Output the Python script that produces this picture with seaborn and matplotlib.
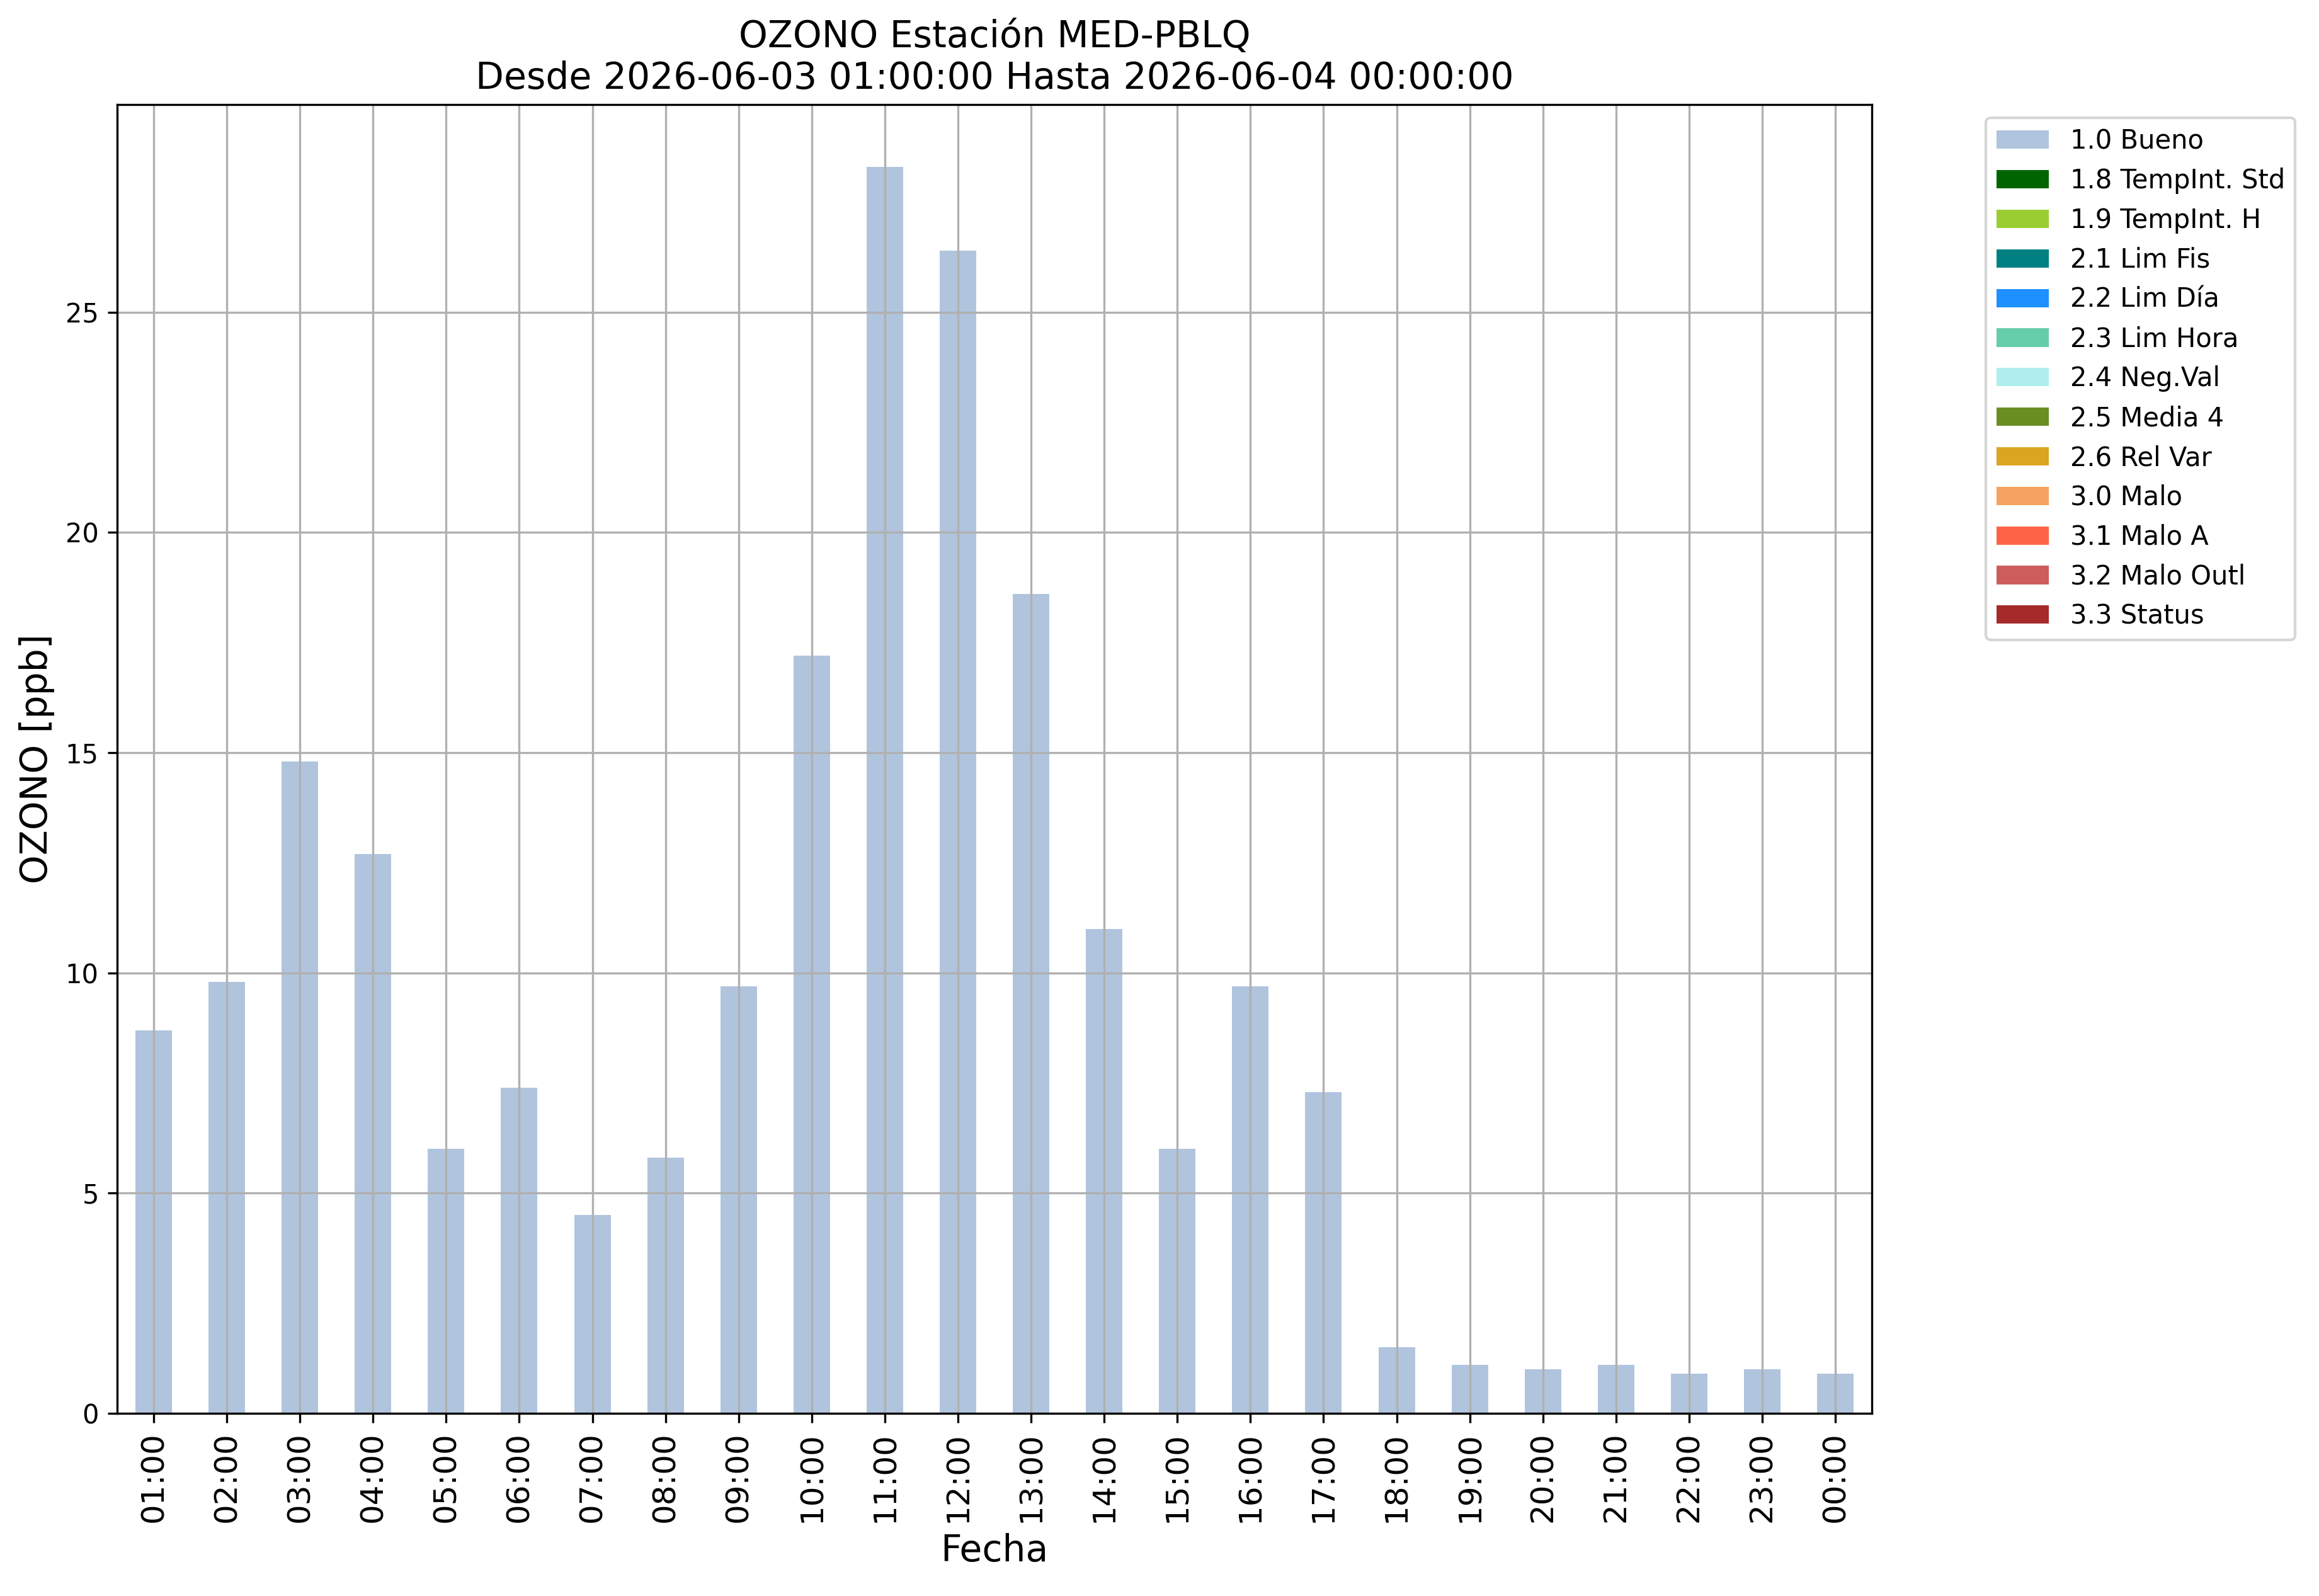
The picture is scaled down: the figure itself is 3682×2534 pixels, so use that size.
import matplotlib

matplotlib.use("Agg")
import matplotlib.pyplot as plt
from matplotlib.patches import Patch
import seaborn as sns

# hourly ozone values, 2026-06-03 01:00 to 2026-06-04 00:00
hours = ["01:00", "02:00", "03:00", "04:00", "05:00", "06:00", "07:00", "08:00",
         "09:00", "10:00", "11:00", "12:00", "13:00", "14:00", "15:00", "16:00",
         "17:00", "18:00", "19:00", "20:00", "21:00", "22:00", "23:00", "00:00"]
ozono = [8.7, 9.8, 14.8, 12.7, 6.0, 7.4, 4.5, 5.8, 9.7, 17.2, 28.3, 26.4,
         18.6, 11.0, 6.0, 9.7, 7.3, 1.5, 1.1, 1.0, 1.1, 0.9, 1.0, 0.9]

# quality flags shown in the legend (only "1.0 Bueno" has data)
flag_labels = ["1.0 Bueno", "1.8 TempInt. Std", "1.9 TempInt. H", "2.1 Lim Fis",
               "2.2 Lim Día", "2.3 Lim Hora", "2.4 Neg.Val", "2.5 Media 4",
               "2.6 Rel Var", "3.0 Malo", "3.1 Malo A", "3.2 Malo Outl", "3.3 Status"]
flag_colors = ["lightsteelblue", "darkgreen", "yellowgreen", "teal", "dodgerblue",
               "mediumaquamarine", "paleturquoise", "olivedrab", "goldenrod",
               "sandybrown", "tomato", "indianred", "brown"]

fig = plt.figure(figsize=(3682 / 300, 2534 / 300), dpi=300)
ax = fig.add_axes([0.0505, 0.1144, 0.8072 - 0.0505, 0.9345 - 0.1144])

sns.barplot(x=hours, y=ozono, color=flag_colors[0], saturation=1, width=0.5,
            linewidth=0, ax=ax)

ax.grid(True, color="#b0b0b0", linewidth=0.8)
ax.set_axisbelow("line")
ax.set_xlim(-0.5, len(hours) - 0.5)
ax.set_ylim(0, max(ozono) * 1.05)
ax.set_yticks([0, 5, 10, 15, 20, 25])
ax.tick_params(axis="x", rotation=90, labelsize=12)
ax.tick_params(axis="y", labelsize=10)
ax.set_xlabel("Fecha", fontsize=14)
ax.set_ylabel("OZONO [ppb]", fontsize=14)
ax.set_title("OZONO Estación MED-PBLQ\n"
             "Desde 2026-06-03 01:00:00 Hasta 2026-06-04 00:00:00", fontsize=14)

handles = [Patch(facecolor=c, edgecolor="none", label=l)
           for c, l in zip(flag_colors, flag_labels)]
ax.legend(handles=handles, loc="upper left", bbox_to_anchor=(1.065, 0.99),
          borderaxespad=0, fontsize=10)

fig.savefig("out.png", dpi=300)
